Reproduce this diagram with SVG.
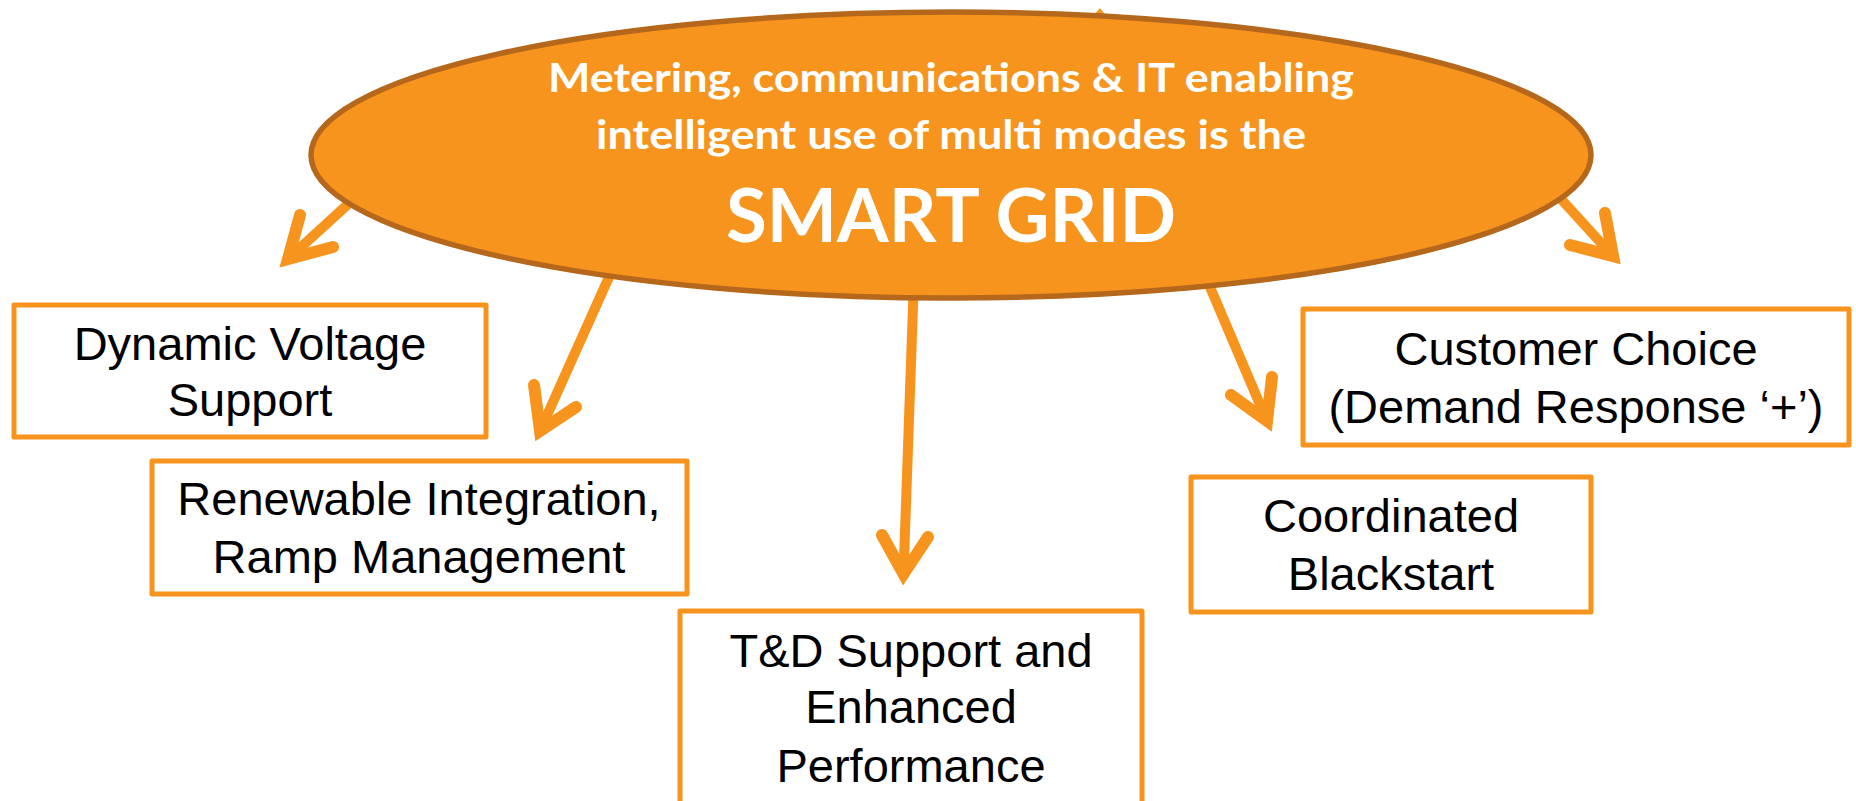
<svg xmlns="http://www.w3.org/2000/svg" width="1856" height="801" viewBox="0 0 1856 801">
<style>
.shaft{fill:none;stroke:#f7941d;stroke-width:10;stroke-linecap:butt}
.head{fill:none;stroke:#f7941d;stroke-width:12;stroke-linecap:round;stroke-linejoin:miter;stroke-miterlimit:6}
.box{fill:#ffffff;stroke:#f7941d;stroke-width:5;stroke-linejoin:round}
.lbl{font-family:"Liberation Sans",Arial,sans-serif;font-size:47px;fill:#000000;text-anchor:middle}
.hub{font-family:Lato,"Open Sans",sans-serif;font-weight:bold;fill:#ffffff;text-anchor:middle}
</style>
<rect width="1856" height="801" fill="#ffffff"/>
<g id="connectors">
  <polygon points="1092,17 1100,8 1107,17" fill="#f7941d"/>
  <line class="shaft" x1="380" y1="175" x2="288" y2="259"/>
  <polyline class="head" points="300,215 288,259 333,247"/>
  <line class="shaft" x1="622" y1="248" x2="540" y2="431"/>
  <polyline class="head" points="534,385 540,431 576,407"/>
  <line class="shaft" x1="915" y1="250" x2="903.5" y2="574"/>
  <polyline class="head" points="882,535 903.5,574 928,537"/>
  <line class="shaft" x1="1190" y1="240" x2="1267" y2="421"/>
  <polyline class="head" points="1231,395 1267,421 1272,377"/>
  <line class="shaft" x1="1530" y1="165" x2="1613" y2="256"/>
  <polyline class="head" points="1605,213 1613,256 1570,245"/>
</g>
<g id="smart-grid">
  <ellipse cx="951" cy="155" rx="640" ry="143" fill="#f7941d" stroke="#b5671b" stroke-width="5.5"/>
  <text class="hub" x="951" y="92" font-size="41" textLength="806" lengthAdjust="spacingAndGlyphs">Metering, communications &amp; IT enabling</text>
  <text class="hub" x="951" y="149" font-size="41" textLength="710" lengthAdjust="spacingAndGlyphs">intelligent use of multi modes is the</text>
  <text class="hub" x="951" y="242" font-size="75" textLength="450" lengthAdjust="spacingAndGlyphs">SMART GRID</text>
</g>
<g id="dynamic-voltage">
  <rect class="box" x="14" y="305" width="472" height="132"/>
  <text class="lbl" x="250" y="360">Dynamic Voltage</text>
  <text class="lbl" x="250" y="416">Support</text>
</g>
<g id="renewable">
  <rect class="box" x="152" y="461" width="535" height="133"/>
  <text class="lbl" x="419" y="515">Renewable Integration,</text>
  <text class="lbl" x="419" y="573">Ramp Management</text>
</g>
<g id="td-support">
  <rect class="box" x="680" y="611" width="462" height="210"/>
  <text class="lbl" x="911" y="667">T&amp;D Support and</text>
  <text class="lbl" x="911" y="723">Enhanced</text>
  <text class="lbl" x="911" y="782">Performance</text>
</g>
<g id="blackstart">
  <rect class="box" x="1191" y="477" width="400" height="135"/>
  <text class="lbl" x="1391" y="532">Coordinated</text>
  <text class="lbl" x="1391" y="590">Blackstart</text>
</g>
<g id="customer-choice">
  <rect class="box" x="1303" y="309" width="546" height="136"/>
  <text class="lbl" x="1576" y="365">Customer Choice</text>
  <text class="lbl" x="1576" y="423">(Demand Response ‘+’)</text>
</g>
</svg>
